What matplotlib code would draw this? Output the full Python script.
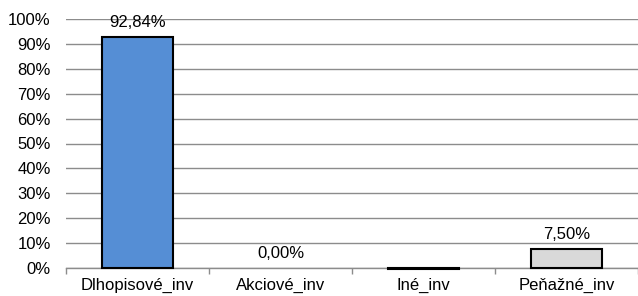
import matplotlib
matplotlib.use("Agg")
import matplotlib.pyplot as plt
import numpy as np

categories = ["Dlhopisové_inv", "Akciové_inv", "Iné_inv", "Peňažné_inv"]
values = [92.84, 0.00, -0.34, 7.50]
labels = ["92,84%", "0,00%", "", "7,50%"]
colors = ["#558ED5", "#D9D9D9", "#D9D9D9", "#D9D9D9"]
yticks = list(range(0, 101, 10))

plt.rcParams['font.family'] = ['Liberation Sans', 'DejaVu Sans']
FS = 12

fig = plt.figure(figsize=(6.38, 2.96), dpi=100)
ax = fig.add_axes([66/638, 1-268/296, 572/638, 249/296])

x = np.arange(len(categories))
lws = [0 if v == 0 else 1.5 for v in values]
bars = ax.bar(x, values, width=0.5, color=colors, edgecolor="black", linewidth=lws, zorder=3, clip_on=False)

for xi, v, lab in zip(x, values, labels):
    if lab:
        ax.annotate(lab, (xi, max(v, 0)), xytext=(0, 5), textcoords="offset points",
                    ha="center", va="bottom", fontsize=FS)

ax.set_xlim(-0.5, len(categories) - 0.5)
ax.set_ylim(0, 100)
ax.set_yticks(yticks)
ax.set_yticklabels([f"{t}%" for t in yticks], fontsize=FS)
ax.yaxis.grid(True, color="#8C8C8C", linewidth=1.0, zorder=0)
ax.set_axisbelow(True)
ax.tick_params(axis="y", length=0, pad=11)

ax.set_xticks(x)
ax.set_xticklabels(categories, fontsize=FS)
ax.set_xticks(np.arange(-0.5, len(categories), 1.0), minor=True)
ax.tick_params(axis="x", which="major", length=0, pad=7)
ax.tick_params(axis="x", which="minor", length=4, color="#8C8C8C", width=1)

for s in ["left", "right", "top"]:
    ax.spines[s].set_visible(False)
ax.spines["bottom"].set_color("#8C8C8C")
ax.spines["bottom"].set_linewidth(1.0)

fig.savefig("out.png", dpi=100)
